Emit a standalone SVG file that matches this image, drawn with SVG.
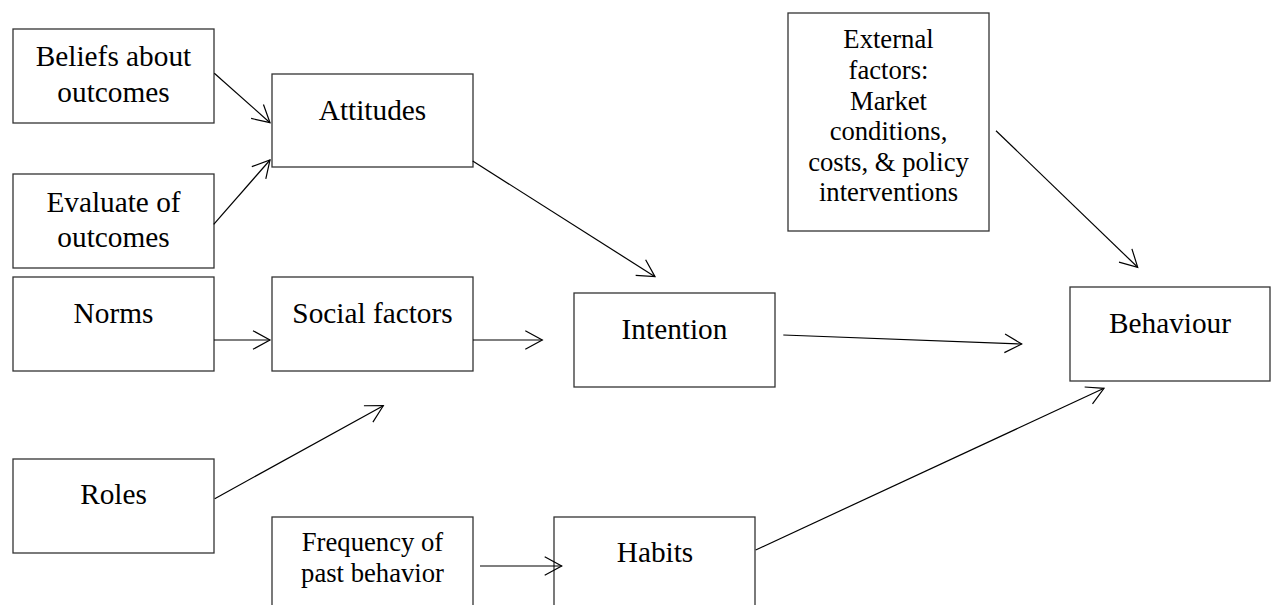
<svg xmlns="http://www.w3.org/2000/svg" width="1271" height="605" viewBox="0 0 1271 605">
<style>
.box{fill:#fff;stroke:#333;stroke-width:1.3}
.t{font-family:"Liberation Serif","Times New Roman",serif;font-size:29.3px;fill:#000;text-anchor:middle}
.s{font-size:26.67px}
.c{fill:none;stroke:#000;stroke-width:1.2}
</style>
<defs>
<marker id="arr" markerUnits="userSpaceOnUse" markerWidth="24" markerHeight="24" viewBox="0 0 24 24" refX="20" refY="12" orient="auto" overflow="visible">
<path d="M3,2.7 L20,12 L3,21.3" fill="none" stroke="#000" stroke-width="1.2"/>
</marker>
</defs>
<rect width="1271" height="605" fill="#fff"/>
<g id="beliefs"><rect class="box" x="13" y="29" width="201" height="94"/><text class="t" x="113.5" y="65.7">Beliefs about</text><text class="t" x="113.5" y="101.7">outcomes</text></g>
<g id="evaluate"><rect class="box" x="13" y="174" width="201" height="94"/><text class="t" x="113.5" y="211.7">Evaluate of</text><text class="t" x="113.5" y="247.3">outcomes</text></g>
<g id="attitudes"><rect class="box" x="272" y="74" width="201" height="93"/><text class="t" x="372.5" y="120">Attitudes</text></g>
<g id="norms"><rect class="box" x="13" y="277" width="201" height="94"/><text class="t" x="113.5" y="322.7">Norms</text></g>
<g id="social"><rect class="box" x="272" y="277" width="201" height="94"/><text class="t" x="372.5" y="322.7">Social factors</text></g>
<g id="roles"><rect class="box" x="13" y="459" width="201" height="94"/><text class="t" x="113.5" y="504.3">Roles</text></g>
<g id="frequency"><rect class="box" x="272" y="517" width="201" height="100"/><text class="t s" x="372.5" y="551">Frequency of</text><text class="t s" x="372.5" y="582">past behavior</text></g>
<g id="intention"><rect class="box" x="574" y="293" width="201" height="94"/><text class="t" x="674.5" y="339">Intention</text></g>
<g id="habits"><rect class="box" x="554" y="517" width="201" height="100"/><text class="t" x="655" y="561.7">Habits</text></g>
<g id="external"><rect class="box" x="788" y="13" width="201" height="218"/>
<text class="t s" x="888.5" y="48.3">External</text><text class="t s" x="888.5" y="79.3">factors:</text><text class="t s" x="888.5" y="109.5">Market</text><text class="t s" x="888.5" y="140">conditions,</text><text class="t s" x="888.5" y="170.7">costs, &amp; policy</text><text class="t s" x="888.5" y="201">interventions</text></g>
<g id="behaviour"><rect class="box" x="1070" y="287" width="200" height="94"/><text class="t" x="1170" y="332.7">Behaviour</text></g>
<g id="connectors">
<path class="c" marker-end="url(#arr)" d="M214.3,73.3 L270,122.7"/>
<path class="c" marker-end="url(#arr)" d="M213.7,224.3 L270,160"/>
<path class="c" marker-end="url(#arr)" d="M214,340 L270,340"/>
<path class="c" marker-end="url(#arr)" d="M214.7,498.7 L383.3,405.7"/>
<path class="c" marker-end="url(#arr)" d="M472.7,161 L655,276.7"/>
<path class="c" marker-end="url(#arr)" d="M473,340 L542.3,340"/>
<path class="c" marker-end="url(#arr)" d="M480,566 L561.7,566"/>
<path class="c" marker-end="url(#arr)" d="M783.3,335 L1021.7,344"/>
<path class="c" marker-end="url(#arr)" d="M996,130.7 L1137.7,267.3"/>
<path class="c" marker-end="url(#arr)" d="M755.7,550 L1104,388.3"/>
</g>
</svg>
